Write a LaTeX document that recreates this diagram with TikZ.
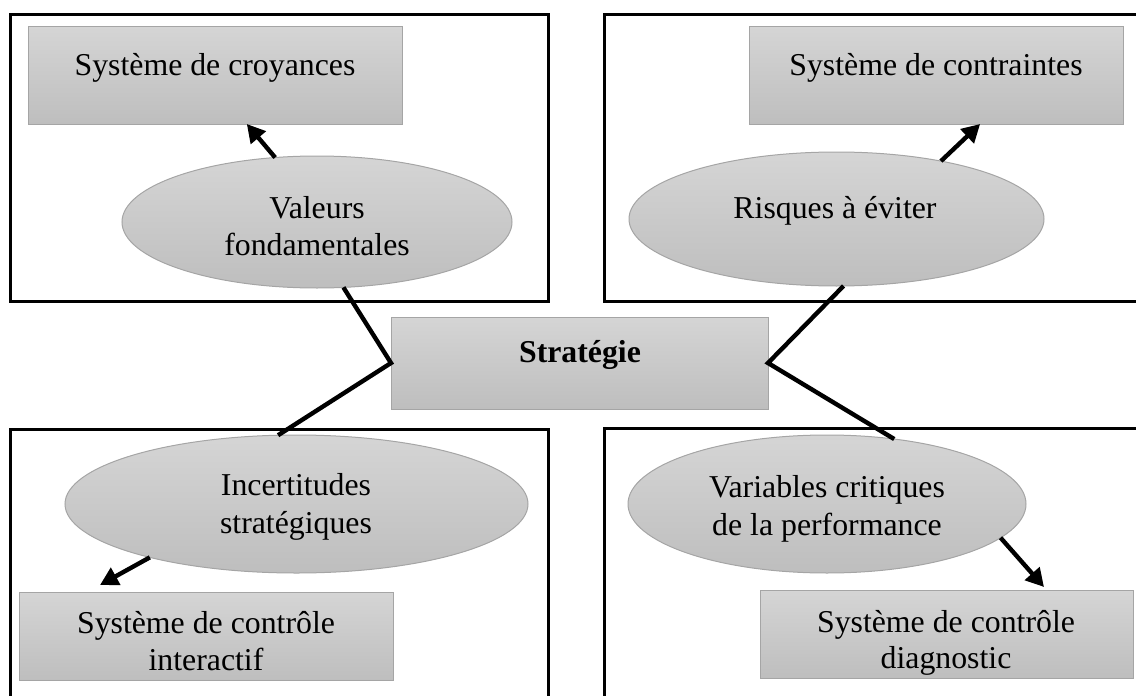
\documentclass[tikz,border=0pt]{standalone}
\usepackage{fontspec}
\setmainfont{Liberation Serif}
\usetikzlibrary{shapes.geometric,arrows.meta,calc}
\definecolor{shtop}{RGB}{213,213,213}
\definecolor{shbot}{RGB}{190,190,190}
\definecolor{shline}{RGB}{165,165,165}
\begin{document}
\begin{tikzpicture}[x=1pt,y=-1pt,
  frame/.style={draw=black,line width=3pt},
  graybox/.style={rectangle,draw=shline,line width=1pt,top color=shtop,bottom color=shbot,inner sep=0pt,outer sep=0pt},
  grayoval/.style={ellipse,draw=shline,line width=1pt,top color=shtop,bottom color=shbot,inner sep=0pt,outer sep=0pt},
  lbl/.style={anchor=base,inner sep=0pt,font=\fontsize{31.8}{38}\selectfont},
  lblb/.style={anchor=base,inner sep=0pt,font=\fontsize{31.8}{38}\selectfont\bfseries},
  link/.style={line width=4.4pt},
  arr/.style={line width=4.4pt,-{Triangle[length=18pt,width=19pt]}}]
\useasboundingbox (0,0) rectangle (1136,696);
\clip (0,0) rectangle (1136,696);
% frames
\draw[frame] (10,14) rectangle (548,301);
\draw[frame] (604,14) rectangle (1160,301);
\draw[frame] (10,429) rectangle (548,730);
\draw[frame] (604,428) rectangle (1160,730);
% boxes
\node[graybox,minimum width=374pt,minimum height=98pt] (r1) at (215,75) {};
\node[graybox,minimum width=374pt,minimum height=98pt] (r2) at (936,75) {};
\node[graybox,minimum width=374pt,minimum height=88pt] (r3) at (206,636) {};
\node[graybox,minimum width=373pt,minimum height=88pt] (r4) at (946.5,634) {};
\node[graybox,minimum width=377pt,minimum height=92pt] (s) at (579.5,363) {};
% ovals
\node[grayoval,minimum width=390pt,minimum height=132pt] (e1) at (317,222) {};
\node[grayoval,minimum width=415pt,minimum height=134pt] (e2) at (836.5,219) {};
\node[grayoval,minimum width=463pt,minimum height=138pt] (e3) at (296.5,504) {};
\node[grayoval,minimum width=398pt,minimum height=138pt] (e4) at (827,504) {};
% texts
\node[lbl] (t1) at (215,75) {Système de croyances};
\node[lbl] (t2) at (936,75) {Système de contraintes};
\node[lbl] (t3a) at (206,633) {Système de contrôle};
\node[lbl] (t3b) at (206,670) {interactif};
\node[lbl] (t4a) at (946,632) {Système de contrôle};
\node[lbl] (t4b) at (946,668) {diagnostic};
\node[lblb] (ts) at (580,362) {Stratégie};
\node[lbl] (u1a) at (317,218) {Valeurs};
\node[lbl] (u1b) at (317,255) {fondamentales};
\node[lbl] (u2) at (835,218) {Risques à éviter};
\node[lbl] (u3a) at (296,495) {Incertitudes};
\node[lbl] (u3b) at (296,533) {stratégiques};
\node[lbl] (u4a) at (827,497) {Variables critiques};
\node[lbl] (u4b) at (827,535) {de la performance};
% links
\draw[link] (e1.-68.2) -- (s.west) -- (e3.105.6);
\draw[link] (e2.-84.4) -- (s.east) -- (e4.44.1);
% arrows
\draw[arr] (e1.123) -- (r1.-57);
\draw[arr] (e2.29.3) -- (r2.-48);
\draw[arr] (e3.200) -- ($(r3.north west)+(81,-7)$);
\draw[arr] (e4.-11.9) -- ($(r4.north west)+(284,-3)$);
\end{tikzpicture}
\end{document}
